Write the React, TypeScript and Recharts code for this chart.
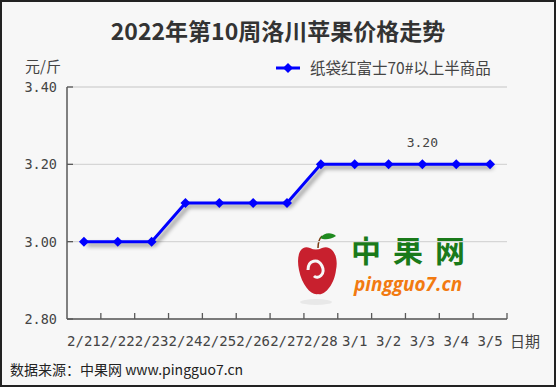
import { LineChart, Line, XAxis, YAxis, CartesianGrid, LabelList } from 'recharts';

const dates = ['2/21', '2/22', '2/23', '2/24', '2/25', '2/26', '2/27', '2/28', '3/1', '3/2', '3/3', '3/4', '3/5'];
const prices = [3.0, 3.0, 3.0, 3.1, 3.1, 3.1, 3.1, 3.2, 3.2, 3.2, 3.2, 3.2, 3.2];
const yTicks = [2.8, 3.0, 3.2, 3.4];
const seriesName = '纸袋红富士70#以上半商品';
const labelDate = '3/3';

const data = dates.map((d, i) => ({ x: i + 0.5, date: d, price: prices[i] }));
const xTicks = dates.flatMap((_, i) => [i + 0.5, i + 1]);

const MONO = '"DejaVu Sans Mono", "Liberation Mono", monospace';
const CJK = '"Noto Sans CJK SC", "Noto Sans", sans-serif';
const AXIS = '#595959';
const TEXT = '#444';

function XTick({ x, y, payload }: any) {
  const v = payload.value as number;
  if (Number.isInteger(v)) {
    return <line x1={x} y1={y} x2={x} y2={y - 6} stroke={AXIS} strokeWidth={1.3} />;
  }
  const label = dates[Math.floor(v)];
  return (
    <text x={x} y={y + 27} textAnchor="middle" fontFamily={MONO} fontSize={14} fill={TEXT}>
      {label}
    </text>
  );
}

function YTick({ x, y, payload }: any) {
  return (
    <g>
      <line x1={x} y1={y} x2={x + 6} y2={y} stroke={AXIS} strokeWidth={1.3} />
      <text x={x - 10} y={y + 5} textAnchor="end" fontFamily={MONO} fontSize={13.5} fill={TEXT}>
        {Number(payload.value).toFixed(2)}
      </text>
    </g>
  );
}

function Diamond({ cx, cy, index }: any) {
  if (cx == null || cy == null) return <g key={index} />;
  const r = 5;
  return <path key={index} d={`M${cx},${cy - r}L${cx + r},${cy}L${cx},${cy + r}L${cx - r},${cy}Z`} fill="#0000ff" />;
}

function PointLabel({ x, y, value, index }: any) {
  if (dates[index] !== labelDate) return null;
  return (
    <text x={x} y={y - 17} textAnchor="middle" fontFamily={MONO} fontSize={13} fill={TEXT}>
      {Number(value).toFixed(2)}
    </text>
  );
}

function LegendBox() {
  return (
    <svg width={250} height={24} style={{ position: 'absolute', left: 268, top: 54 }}>
      <line x1={6} y1={12} x2={30} y2={12} stroke="#0000ff" strokeWidth={3} />
      <path d="M18,7L23,12L18,17L13,12Z" fill="#0000ff" />
      <text x={40} y={18} fontFamily={CJK} fontSize={15.5} fill={TEXT}>
        {seriesName}
      </text>
    </svg>
  );
}

function Watermark() {
  return (
    <svg width={240} height={95} style={{ position: 'absolute', left: 292, top: 213 }}>
      <g transform="translate(0,15)">
        <ellipse cx={22} cy={72} rx={16} ry={3} fill="#000" opacity={0.06} />
        <path d="M16,18 C6,14 2,26 5,40 C8,56 18,66 24,64 C30,66 40,56 42,40 C45,26 38,14 28,18 C24,20 20,20 16,18 Z" fill="#c8202e" />
        <path d="M14,40 C14,30 24,28 28,36 C32,44 24,50 20,46" stroke="#f7f7f7" strokeWidth={3} fill="none" />
        <path d="M24,18 C24,12 26,8 28,6" stroke="#7a3a10" strokeWidth={1.5} fill="none" />
        <path d="M26,8 C30,2 38,2 42,6 C36,10 30,10 26,8 Z" fill="#1f8a1f" />
        <text x={57} y={32} fontFamily={CJK} fontSize={30} fontWeight={700} letterSpacing={12} fill="#1a7a1a">
          中果网
        </text>
        <text x={60} y={61} fontFamily='"Open Sans", sans-serif' fontStyle="italic" fontWeight={700} fontSize={19} fill="#f27a10">
          pingguo7.cn
        </text>
      </g>
    </svg>
  );
}

export default function App() {
  return (
    <div
      style={{
        position: 'absolute',
        left: 0,
        top: 0,
        width: 556,
        height: 387,
        boxSizing: 'border-box',
        border: '2px solid #222',
        background: '#f7f7f7',
        fontFamily: CJK,
      }}
    >
      <style>{`.recharts-line { filter: drop-shadow(3px 3px 2px rgba(0,0,0,0.45)); }`}</style>
      <div style={{ position: 'absolute', left: 0, right: 0, top: 11, textAlign: 'center', fontSize: 23, fontWeight: 700, color: '#333' }}>
        2022年第10周洛川苹果价格走势
      </div>
      <div style={{ position: 'absolute', left: 23, top: 53, fontSize: 15, color: TEXT }}>元/斤</div>
      <div style={{ position: 'absolute', left: 508, top: 328, fontSize: 15, color: TEXT }}>日期</div>
      <div style={{ position: 'absolute', left: 8, top: 357, fontSize: 14, color: '#222' }}>
        数据来源：中果网 www.pingguo7.cn
      </div>
      <Watermark />
      <LegendBox />
      <LineChart width={552} height={383} data={data} margin={{ top: 85, right: 47, bottom: 36, left: 5 }}>
        <CartesianGrid horizontal vertical={false} stroke="#d6d6d6" strokeWidth={1.3} />
        <XAxis
          dataKey="x"
          type="number"
          domain={[0, dates.length]}
          ticks={xTicks}
          interval={0}
          height={30}
          tickSize={0}
          tickMargin={0}
          tickLine={false}
          tick={<XTick />}
          axisLine={{ stroke: AXIS, strokeWidth: 1.5 }}
        />
        <YAxis
          domain={[2.8, 3.4]}
          ticks={yTicks}
          interval={0}
          width={60}
          tickSize={0}
          tickMargin={0}
          tickLine={false}
          tick={<YTick />}
          axisLine={{ stroke: AXIS, strokeWidth: 1.5 }}
        />
        <Line
          dataKey="price"
          name={seriesName}
          stroke="#0000ff"
          strokeWidth={3}
          dot={<Diamond />}
          activeDot={false}
          isAnimationActive={false}
        >
          <LabelList dataKey="price" content={<PointLabel />} />
        </Line>
      </LineChart>
    </div>
  );
}
